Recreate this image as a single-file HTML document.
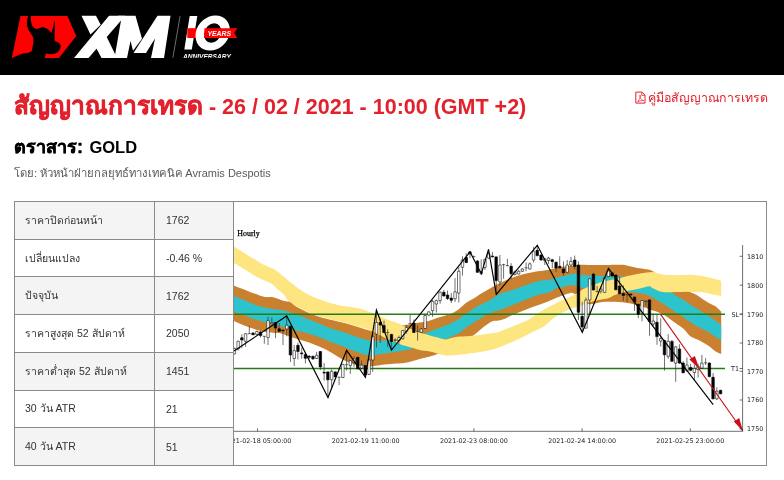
<!DOCTYPE html>
<html lang="th">
<head>
<meta charset="utf-8">
<title>XM</title>
<style>
html,body{margin:0;padding:0;background:#fff;}
body{width:784px;height:480px;overflow:hidden;position:relative;font-family:"Liberation Sans",sans-serif;color:#000;}
#hdr{position:absolute;left:0;top:0;width:784px;height:75px;background:#000;}
#logo{position:absolute;left:0;top:0;}
h1{position:absolute;left:14px;top:91px;margin:0;font-size:21.5px;line-height:30px;font-weight:bold;color:#e3212d;white-space:nowrap;}
h2{position:absolute;left:14px;top:134px;margin:0;word-spacing:1.8px;font-size:16.5px;line-height:26px;font-weight:bold;color:#000;white-space:nowrap;}
#by{position:absolute;left:14px;top:164px;font-size:11px;line-height:18px;color:#5a5a5a;white-space:nowrap;}
#guide{position:absolute;right:16px;top:88px;font-size:12.4px;line-height:20px;color:#e3212d;white-space:nowrap;}
#tbl{position:absolute;left:14px;top:201px;border-collapse:collapse;font-size:10.5px;color:#333;}
#tbl td{border:1px solid #8a8a8a;padding:0 0 0 11px;height:36.7px;vertical-align:middle;}
#tbl td.l{width:129px;padding-left:10px;}
#tbl td.v{width:67px;}
#tbl tr.g td.l,#tbl tr.g td.v{background:#f4f4f4;}
#tbl td.c{padding:0;width:532px;background:#fff;}
</style>
</head>
<body>
<div id="hdr">
<svg id="logo" width="260" height="75" viewBox="0 0 260 75">
<defs><clipPath id="cpa"><rect x="170" y="0" width="90" height="57.8"/></clipPath></defs>
<polygon points="20.5,16 67.4,16 76.3,36 58.9,57.9 11.8,57.9" fill="#f00"/>
<path transform="translate(8,10) scale(0.1084)" fill="#000" d="M186,55C168,100 168,160 200,200C215,225 235,245 235,265C235,300 228,340 220,375C205,395 170,398 150,400C110,408 75,425 40,442L340,442C340,425 345,410 355,398C380,412 425,412 450,395C462,388 470,378 475,368C483,355 488,338 486,322C475,305 455,292 432,285C428,265 430,230 432,180L432,95C420,130 412,180 400,215C385,185 355,165 325,160C300,160 285,175 265,175C237,172 218,145 212,100L210,55Z"/>
<g fill="#fff">
<polygon points="81.5,15.8 96,15.8 100.7,24.8 90.5,34.5"/>
<polygon points="74,58 88.5,58 121.5,20 125,15.8 109,15.8"/>
<polygon points="95.5,47.7 105.5,35.7 106.5,36.5 115,54 116.5,58 101.5,58 96.5,48.5"/>
<polygon points="118,15.8 135.5,15.8 142,38.8 133,50.8 130.5,41 127,58 114.5,58 121,20.5"/>
<polygon points="133.5,53 157.5,15.8 170.5,15.8 164,58 151,58 155,38.5 146,53"/>
</g>
<path d="M180.1,16L172.9,57.7" stroke="#777" stroke-width="0.9"/>
<polygon points="189.7,16 197.3,16 191.8,49.6 184.3,49.6" fill="#fff"/>
<rect x="187.3" y="28.2" width="12" height="9.8" fill="#f00"/>
<g transform="translate(212.7,33) skewX(-9)"><path fill="#fff" fill-rule="evenodd" d="M-17,0a17,17.6 0 1,0 34,0a17,17.6 0 1,0 -34,0ZM-8.4,0a8.4,9.8 0 1,1 16.8,0a8.4,9.8 0 1,1 -16.8,0Z"/></g>
<polygon points="204.5,28.2 237.4,28.2 234.1,33.1 237.4,38 204,38" fill="#f00"/>
<text x="207.4" y="35.8" font-family="'Liberation Sans',sans-serif" font-weight="bold" font-style="italic" font-size="7.1" fill="#fff" textLength="23.6" lengthAdjust="spacingAndGlyphs">YEARS</text>
<text x="183" y="58.6" clip-path="url(#cpa)" font-family="'Liberation Sans',sans-serif" font-weight="bold" font-style="italic" font-size="6.5" fill="#fff" textLength="47.8" lengthAdjust="spacingAndGlyphs">ANNIVERSARY</text>
</svg>
</div>
<h1><span class="t" style="font-size:24.5px;-webkit-text-stroke:0.55px #e3212d">สัญญาณการเทรด</span> - 26 / 02 / 2021 - 10:00 (GMT +2)</h1>
<svg id="pdf" width="14" height="16" viewBox="633 90 14 16" style="position:absolute;left:633px;top:90px"><path d="M635.8,92.1h6.2l3,3v8h-9.2z" fill="none" stroke="#e3212d" stroke-width="1"/><path d="M641.8,92.2v3.1h3.1" fill="none" stroke="#e3212d" stroke-width="0.8"/><path d="M637.6,101.8C639.6,99.4 640.8,96.6 640.4,95.3C639.8,94.6 639.4,95.6 640,97.1C640.8,99.1 642.4,100.4 643.9,100.6C642,100.4 639.8,100.9 637.6,101.8Z" fill="none" stroke="#e3212d" stroke-width="0.7"/></svg>
<div id="guide">คู่มือสัญญาณการเทรด</div>
<h2><span class="t" style="font-size:18px;-webkit-text-stroke:0.4px #000">ตราสาร:</span> GOLD</h2>
<div id="by"><span class="t" style="font-size:11.3px;margin-right:-1px">โดย: หัวหน้าฝ่ายกลยุทธ์ทางเทคนิค</span> Avramis Despotis</div>
<table id="tbl">
<tr class="g"><td class="l">ราคาปิดก่อนหน้า</td><td class="v">1762</td><td class="c" rowspan="7"><svg id="chart" width="532" height="263" viewBox="234 202 532 263" style="display:block">
<path d="M234.0,285.8C236.1,286.6 242.3,288.8 246.5,290.4C250.7,292.0 255.9,294.2 259.0,295.3C262.1,296.4 262.8,296.6 265.3,297.0C267.8,297.4 270.9,296.8 274.0,297.4C277.1,298.0 281.3,300.1 284.0,300.9C286.7,301.7 288.2,301.0 290.3,302.0C292.4,303.0 293.4,305.0 296.5,306.8C299.6,308.6 304.8,311.2 309.0,313.0C313.2,314.8 317.7,316.2 321.5,317.4C325.3,318.5 328.2,319.0 332.0,319.9C335.8,320.8 340.3,321.9 344.5,323.0C348.7,324.1 352.8,325.6 357.0,326.8C361.2,328.1 365.7,329.7 369.5,330.5C373.3,331.3 376.2,331.8 380.0,331.5C383.8,331.2 388.3,329.5 392.0,328.5C395.7,327.5 398.0,326.5 402.1,325.6C406.2,324.7 412.3,323.7 416.4,323.0C420.5,322.3 423.2,322.4 426.6,321.5C430.0,320.6 433.4,319.0 436.8,317.9C440.2,316.8 444.3,315.8 447.0,314.9C449.7,314.0 451.4,313.6 453.1,312.8C454.8,312.0 455.7,311.4 457.2,310.3C458.7,309.2 460.6,307.6 462.3,306.2C464.0,304.8 465.1,303.6 467.4,302.1C469.7,300.6 473.9,298.3 476.0,297.0C478.1,295.7 477.7,295.7 480.0,294.3C482.3,292.9 486.7,290.4 490.0,288.5C493.3,286.6 496.2,284.8 500.0,283.0C503.8,281.2 508.3,279.0 512.5,277.5C516.7,276.0 520.8,274.8 525.0,273.8C529.2,272.8 533.3,272.0 537.5,271.3C541.7,270.6 546.9,270.0 550.0,269.4C553.1,268.8 552.9,268.5 556.0,267.9C559.1,267.3 564.3,266.5 568.5,266.0C572.7,265.5 576.8,265.0 581.0,264.8C585.2,264.6 589.3,265.0 593.5,265.0C597.7,265.0 601.8,265.0 606.0,265.0C610.2,265.0 615.4,264.8 618.5,264.8C621.6,264.8 622.7,264.7 624.8,265.0C626.9,265.3 628.9,266.1 631.0,266.6C633.1,267.1 635.0,267.6 637.5,268.0C640.0,268.4 643.8,268.8 646.3,269.3C648.8,269.8 650.2,269.8 652.5,271.1C654.8,272.4 656.2,274.5 660.0,277.0C663.8,279.5 670.0,283.5 675.0,286.0C680.0,288.5 686.5,290.4 690.0,291.9C693.5,293.4 694.2,293.6 696.3,294.8C698.4,296.0 700.4,297.8 702.5,299.1C704.6,300.5 706.7,301.8 708.8,302.9C710.9,304.0 712.9,304.6 715.0,306.0C717.1,307.4 720.2,310.7 721.2,311.6L721.2,354.1C720.2,353.6 717.1,352.4 715.0,351.0C712.9,349.6 710.9,347.4 708.8,346.0C706.7,344.6 704.6,343.4 702.5,342.3C700.4,341.2 698.4,340.2 696.3,339.1C694.2,338.1 692.1,337.7 690.0,336.0C687.9,334.3 685.9,330.9 683.8,329.0C681.7,327.1 679.6,326.0 677.5,324.5C675.4,323.0 673.4,321.5 671.3,320.0C669.2,318.5 667.1,316.9 665.0,315.6C662.9,314.3 660.9,313.2 658.8,312.4C656.7,311.5 654.6,311.2 652.5,310.5C650.4,309.8 648.4,308.7 646.3,308.0C644.2,307.3 642.1,306.7 640.0,306.1C637.9,305.5 635.9,304.8 633.8,304.3C631.7,303.8 630.6,303.4 627.5,303.0C624.4,302.6 619.2,302.0 615.0,301.8C610.8,301.6 606.7,301.6 602.5,302.0C598.3,302.4 593.1,304.5 590.0,304.3C586.9,304.1 586.0,302.5 584.0,301.0C582.0,299.5 580.0,296.9 578.0,295.5C576.0,294.1 573.6,293.2 572.0,292.9C570.4,292.6 571.2,292.7 568.5,293.5C565.8,294.3 560.1,296.3 556.0,297.9C551.9,299.5 548.7,301.2 544.0,303.0C539.3,304.8 531.4,307.5 528.0,308.8C524.6,310.1 525.5,309.9 523.8,310.6C522.0,311.3 519.6,312.3 517.5,313.1C515.4,313.9 513.4,314.7 511.3,315.6C509.2,316.6 507.1,318.0 505.0,318.8C502.9,319.6 500.9,320.2 498.8,320.6C496.7,321.0 494.6,320.6 492.5,321.3C490.4,322.0 488.4,323.6 486.3,325.0C484.2,326.4 482.3,328.2 480.0,330.0C477.7,331.8 475.0,334.7 472.5,336.0C470.0,337.3 467.9,336.8 465.0,338.0C462.1,339.2 458.3,341.0 455.0,343.0C451.7,345.0 448.3,348.0 445.0,350.0C441.7,352.0 438.4,353.6 435.0,354.9C431.6,356.2 428.2,356.9 424.8,357.8C421.4,358.7 418.1,359.5 414.6,360.4C411.1,361.3 407.5,362.5 404.0,363.1C400.5,363.7 397.3,363.5 393.5,363.8C389.7,364.1 385.2,364.5 381.0,365.0C376.8,365.5 371.6,366.7 368.5,366.9C365.4,367.1 364.4,366.6 362.3,366.3C360.2,366.0 359.1,366.1 356.0,365.0C352.9,363.9 347.5,362.0 343.5,360.0C339.5,358.0 335.7,355.1 332.0,353.0C328.3,350.9 325.3,349.2 321.5,347.5C317.7,345.8 313.2,343.9 309.0,342.5C304.8,341.1 300.7,340.2 296.5,338.8C292.3,337.4 287.1,335.3 284.0,334.4C280.9,333.4 280.9,333.5 277.8,333.1C274.7,332.7 268.4,332.3 265.3,331.9C262.2,331.5 262.1,331.5 259.0,330.6C255.9,329.7 250.7,327.9 246.5,326.3C242.3,324.7 236.1,321.9 234.0,321.0Z" fill="#c98130"/>
<path d="M234.0,296.1C236.1,297.0 242.3,299.6 246.5,301.3C250.7,303.0 254.8,305.1 259.0,306.3C263.2,307.6 267.3,308.1 271.5,308.8C275.7,309.5 280.9,310.0 284.0,310.6C287.1,311.2 288.2,311.9 290.3,312.5C292.4,313.1 293.4,313.2 296.5,314.4C299.6,315.5 304.8,317.7 309.0,319.4C313.2,321.1 317.7,322.8 321.5,324.4C325.3,326.0 328.2,327.4 332.0,328.8C335.8,330.2 340.3,331.1 344.5,332.5C348.7,333.9 352.8,335.5 357.0,336.9C361.2,338.2 366.5,339.9 369.5,340.6C372.5,341.3 372.9,341.3 375.0,341.3C377.1,341.3 378.8,341.1 382.0,340.8C385.2,340.6 389.8,340.3 394.0,339.8C398.2,339.3 403.3,338.6 407.0,338.0C410.7,337.4 413.2,336.7 416.0,336.0C418.8,335.3 421.8,334.4 423.6,333.8C425.4,333.2 424.4,333.6 426.6,332.7C428.8,331.8 433.4,330.0 436.8,328.7C440.2,327.4 443.6,326.6 447.0,325.1C450.4,323.7 453.8,322.1 457.2,320.0C460.6,317.9 464.3,314.9 467.4,312.8C470.5,310.7 473.9,308.5 476.0,307.2C478.1,305.9 478.3,305.9 480.0,305.0C481.7,304.1 484.6,302.7 486.3,301.9C488.0,301.1 487.7,301.4 490.0,300.0C492.3,298.6 496.2,295.5 500.0,293.8C503.8,292.1 508.3,291.4 512.5,290.0C516.7,288.6 520.8,287.1 525.0,285.6C529.2,284.2 533.3,282.3 537.5,281.3C541.7,280.3 546.9,280.0 550.0,279.4C553.1,278.8 552.9,278.7 556.0,277.9C559.1,277.1 565.2,275.5 568.5,274.8C571.8,274.1 573.9,273.5 576.0,273.5C578.1,273.5 578.7,274.5 581.0,274.8C583.3,275.1 586.4,275.3 590.0,275.5C593.6,275.7 598.3,275.9 602.5,276.1C606.7,276.3 611.2,276.7 615.0,276.8C618.8,276.9 620.8,276.0 625.0,277.0C629.2,278.0 635.0,281.2 640.0,283.0C645.0,284.8 649.8,286.4 655.0,288.0C660.2,289.6 667.5,291.4 671.3,292.8C675.0,294.2 675.4,295.4 677.5,296.6C679.6,297.8 681.7,298.9 683.8,300.2C685.9,301.5 687.9,303.1 690.0,304.4C692.1,305.7 694.2,306.9 696.3,308.2C698.4,309.5 700.4,310.9 702.5,312.2C704.6,313.5 706.7,314.6 708.8,316.0C710.9,317.4 712.9,318.9 715.0,320.4C717.1,321.9 720.2,324.1 721.2,324.8L721.2,340.4C720.2,339.8 717.1,338.0 715.0,336.6C712.9,335.2 710.9,333.6 708.8,332.3C706.7,331.1 704.6,330.2 702.5,329.1C700.4,328.1 698.4,327.2 696.3,326.0C694.2,324.8 692.1,323.2 690.0,321.8C687.9,320.4 685.9,318.9 683.8,317.5C681.7,316.1 679.6,314.8 677.5,313.4C675.4,312.0 673.4,310.8 671.3,309.4C669.2,308.0 667.1,306.6 665.0,305.2C662.9,303.8 660.9,302.3 658.8,301.0C656.7,299.7 654.6,298.6 652.5,297.5C650.4,296.4 648.4,295.2 646.3,294.5C644.2,293.8 642.9,293.6 640.0,293.2C637.1,292.8 633.8,292.2 628.8,291.8C623.8,291.4 616.5,291.5 610.0,291.0C603.5,290.5 594.8,289.6 590.0,289.0C585.2,288.4 583.5,288.1 581.0,287.5C578.5,286.9 577.1,285.8 575.0,285.5C572.9,285.2 570.6,285.3 568.5,285.6C566.4,285.9 564.6,286.8 562.5,287.2C560.4,287.6 558.1,287.5 556.0,288.3C553.9,289.1 553.1,290.8 550.0,291.9C546.9,293.0 541.9,293.6 537.5,295.0C533.1,296.4 527.1,299.2 523.8,300.6C520.5,302.0 519.6,302.3 517.5,303.1C515.4,303.9 513.4,304.8 511.3,305.6C509.2,306.4 507.1,307.3 505.0,308.1C502.9,308.9 500.9,310.0 498.8,310.6C496.7,311.2 494.6,311.2 492.5,311.9C490.4,312.6 488.4,313.9 486.3,315.0C484.2,316.1 482.1,317.6 480.0,318.8C477.9,320.1 475.9,321.2 473.8,322.5C471.7,323.8 469.3,325.2 467.4,326.6C465.5,328.0 464.0,329.4 462.3,330.7C460.6,332.0 458.9,333.4 457.2,334.3C455.5,335.2 454.1,335.5 452.1,336.3C450.1,337.1 448.7,338.2 445.0,339.4C441.3,340.6 435.3,342.0 430.0,343.5C424.7,345.0 416.8,347.4 413.0,348.5C409.2,349.6 410.1,349.4 407.0,350.0C403.9,350.6 398.7,351.3 394.5,351.9C390.3,352.5 386.1,353.2 382.0,353.8C377.9,354.4 373.1,355.4 370.0,355.4C366.9,355.4 365.5,354.6 363.3,354.0C361.1,353.4 360.1,353.2 357.0,352.0C353.9,350.8 348.7,348.5 344.5,346.9C340.3,345.3 335.8,344.0 332.0,342.5C328.2,341.0 325.3,339.6 321.5,338.1C317.7,336.7 313.2,335.1 309.0,333.8C304.8,332.6 300.7,331.8 296.5,330.6C292.3,329.5 288.2,328.0 284.0,326.9C279.8,325.8 275.7,324.9 271.5,323.8C267.3,322.8 263.2,321.9 259.0,320.6C254.8,319.4 250.7,317.8 246.5,316.3C242.3,314.8 236.1,312.5 234.0,311.7Z" fill="#2dc3cd"/>
<path d="M234.0,246.5C236.1,247.8 242.3,251.8 246.5,254.4C250.7,257.0 255.9,260.0 259.0,261.9C262.1,263.8 262.6,264.2 265.3,265.6C268.0,267.0 272.2,268.1 275.3,270.0C278.4,271.9 280.5,274.1 284.0,276.9C287.5,279.7 292.3,283.9 296.5,286.9C300.7,289.9 304.8,292.8 309.0,295.0C313.2,297.2 317.7,298.6 321.5,300.0C325.3,301.4 328.2,302.6 332.0,303.6C335.8,304.7 340.3,305.6 344.5,306.3C348.7,307.1 352.8,307.2 357.0,308.1C361.2,309.0 366.4,310.9 369.5,311.9C372.6,312.8 373.7,313.0 375.8,313.8C377.9,314.6 379.9,315.9 382.0,316.9C384.1,317.9 386.0,319.1 388.3,320.0C390.6,320.9 393.0,321.3 396.0,322.5C399.0,323.7 402.8,325.7 406.2,327.1C409.6,328.6 413.5,330.1 416.4,331.2C419.3,332.3 421.3,333.1 423.6,333.8C425.9,334.5 427.8,334.8 430.0,335.4C432.2,336.0 434.3,336.6 436.8,337.3C439.3,338.0 442.4,339.3 445.0,339.4C447.6,339.5 450.1,338.2 452.1,337.8C454.1,337.4 454.3,337.1 457.2,336.8C460.1,336.5 465.7,336.3 469.5,336.0C473.3,335.7 476.2,335.5 480.0,335.0C483.8,334.5 489.4,333.6 492.5,333.1C495.6,332.6 496.7,332.5 498.8,331.9C500.9,331.3 502.9,330.2 505.0,329.4C507.1,328.6 509.2,327.7 511.3,326.9C513.4,326.1 515.4,325.2 517.5,324.4C519.6,323.6 522.0,322.6 523.8,321.9C525.5,321.2 525.8,321.3 528.0,320.0C530.2,318.7 534.3,315.8 537.0,314.0C539.7,312.2 540.8,311.2 544.0,309.4C547.2,307.6 552.5,305.0 556.0,303.3C559.5,301.6 561.8,300.5 565.0,299.0C568.2,297.5 572.3,295.9 575.0,294.5C577.7,293.1 578.5,291.8 581.0,290.4C583.5,289.0 586.4,287.7 590.0,286.3C593.6,284.9 598.3,283.0 602.5,281.8C606.7,280.6 610.8,280.2 615.0,279.3C619.2,278.4 623.3,277.1 627.5,276.1C631.7,275.2 635.8,274.3 640.0,273.6C644.2,272.9 649.4,272.0 652.5,272.0C655.6,272.0 656.7,273.3 658.8,273.8C660.9,274.3 661.9,274.6 665.0,274.8C668.1,275.0 673.3,275.2 677.5,275.2C681.7,275.2 685.8,274.7 690.0,274.8C694.2,274.9 698.3,275.3 702.5,276.0C706.7,276.7 711.9,278.3 715.0,279.1C718.1,279.9 720.2,280.7 721.2,281.0L721.2,296.0C720.2,295.8 718.1,295.4 715.0,294.8C711.9,294.2 706.7,292.8 702.5,292.3C698.3,291.8 694.2,291.8 690.0,291.7C685.8,291.6 681.7,291.9 677.5,292.0C673.3,292.1 668.1,292.5 665.0,292.3C661.9,292.1 660.9,291.7 658.8,291.0C656.7,290.3 654.2,288.8 652.5,288.0C650.8,287.2 650.9,286.1 648.8,286.2C646.7,286.3 643.5,287.7 640.0,288.5C636.5,289.3 631.7,290.0 627.5,291.1C623.3,292.2 618.1,293.8 615.0,294.9C611.9,296.0 610.9,297.3 608.8,298.0C606.7,298.7 605.6,298.6 602.5,299.3C599.4,300.0 593.6,301.0 590.0,302.0C586.4,303.0 584.6,304.1 581.0,305.4C577.4,306.7 572.7,307.9 568.5,309.8C564.3,311.7 560.1,313.8 556.0,316.5C551.9,319.2 547.2,324.1 544.0,326.3C540.8,328.6 539.7,328.6 537.0,330.0C534.3,331.4 531.2,332.8 528.0,334.4C524.8,336.0 521.3,337.6 517.5,339.4C513.7,341.2 509.2,343.3 505.0,345.0C500.8,346.7 496.7,348.2 492.5,349.4C488.3,350.5 485.2,351.1 480.0,351.9C474.8,352.7 466.5,353.8 461.3,354.4C456.1,355.0 451.9,355.5 448.8,355.6C445.7,355.7 445.6,355.7 442.5,355.0C439.4,354.3 433.8,352.4 430.0,351.6C426.2,350.8 422.3,350.6 419.5,350.0C416.7,349.4 415.4,348.7 413.3,348.1C411.2,347.5 409.1,346.9 407.0,346.3C404.9,345.7 402.9,345.1 400.8,344.4C398.7,343.7 396.6,342.7 394.5,341.9C392.4,341.1 390.4,340.3 388.3,339.4C386.2,338.5 385.1,337.9 382.0,336.3C378.9,334.7 373.7,331.7 369.5,330.0C365.3,328.3 361.2,327.6 357.0,326.3C352.8,325.1 348.7,323.6 344.5,322.5C340.3,321.4 335.8,320.3 332.0,319.4C328.2,318.5 324.3,317.6 321.5,316.9C318.7,316.2 317.4,315.7 315.3,315.0C313.2,314.3 311.1,313.4 309.0,312.5C306.9,311.6 304.9,310.4 302.8,309.4C300.7,308.4 299.0,307.9 296.5,306.3C294.0,304.7 289.9,301.9 287.8,300.0C285.7,298.1 285.7,296.5 284.0,294.7C282.3,292.9 279.9,291.2 277.8,289.4C275.7,287.6 274.6,285.7 271.5,283.8C268.4,281.9 263.2,280.3 259.0,278.1C254.8,275.9 250.7,273.1 246.5,270.6C242.3,268.1 236.1,264.4 234.0,263.1Z" fill="#fde57f"/>
<path d="M234,314.2H725M234,368.5H725" stroke="#257c14" stroke-width="1.35" fill="none"/>
<path d="M234.4,347.5V354.4M238.1,340.6V350.6M241.8,334.4V348.1M245.6,333.1V346.9M249.3,326.3V334.0M247.7,333.7h3.2M253.1,331.9V335.0M256.8,330.6V335.0M260.5,330.6V337.5M264.3,336.0V343.8M262.7,336.3h3.2M268.0,316.9V345.0M271.8,317.5V323.8M275.5,321.9V338.1M279.2,323.1V331.9M283.0,330.0V345.0M286.7,316.3V336.3M290.5,325.6V361.9M294.2,345.0V366.0M297.9,342.5V359.4M301.7,347.5V358.8M305.4,353.3V363.4M309.2,355.0V358.8M312.9,355.6V360.0M316.6,351.9V358.8M320.4,351.3V370.0M324.1,363.1V380.6M327.9,371.3V397.5M331.6,369.4V388.8M335.3,371.3V377.5M339.1,376.9V385.0M337.5,377.2h3.2M342.8,363.8V378.1M346.6,350.6V370.6M345.0,364.7h3.2M350.3,360.0V373.8M354.0,356.3V366.9M357.8,356.9V369.4M361.5,360.6V369.4M365.3,365.0V377.5M369.0,359.4V375.0M372.7,335.5V371.9M376.5,310.0V347.5M380.2,318.8V343.0M384.0,320.6V333.1M387.7,329.4V346.9M386.1,332.6h3.2M391.4,333.8V350.0M395.2,338.1V342.5M398.9,335.6V344.4M402.7,330.0V339.4M406.4,325.0V333.8M410.1,315.0V323.8M408.5,323.5h3.2M413.9,319.4V332.8M417.6,325.6V340.6M416.0,331.6h3.2M421.4,328.1V332.8M425.1,313.8V328.8M428.8,311.3V316.3M432.6,300.0V316.9M436.3,299.5V312.5M440.1,291.3V303.8M443.8,290.0V296.3M447.5,290.6V300.0M451.3,293.1V303.1M455.0,278.1V301.9M458.8,266.9V302.5M462.5,256.3V275.6M466.2,253.1V263.1M470.0,251.3V258.1M473.7,255.6V257.5M472.1,256.6h3.2M477.5,260.0V272.8M481.2,259.4V274.4M484.9,258.8V270.0M488.7,249.4V258.8M492.4,251.9V257.5M496.2,256.3V294.4M499.9,255.0V285.6M503.6,263.8V278.8M502.0,264.7h3.2M507.4,258.8V266.3M505.8,265.6h3.2M511.1,263.1V279.4M514.9,270.6V275.6M518.6,270.0V274.4M522.3,268.1V271.9M526.1,262.5V271.3M524.5,267.8h3.2M529.8,262.5V269.4M533.6,246.9V262.5M537.3,245.3V256.3M541.0,254.4V260.6M544.8,258.1V265.0M548.5,256.9V263.8M552.3,258.8V268.1M556.0,261.3V271.9M559.7,256.3V268.1M563.5,261.3V275.6M567.2,260.0V272.8M571.0,256.9V266.3M574.7,255.6V269.4M578.4,261.3V320.0M582.2,301.9V331.9M585.9,297.5V328.5M589.7,278.5V315.0M593.4,272.9V290.4M597.1,286.0V292.3M595.5,291.6h3.2M600.9,286.5V293.5M604.6,277.3V292.9M608.4,268.3V277.3M612.1,272.3V276.6M615.8,274.8V290.0M619.6,276.6V294.1M623.3,285.4V301.0M627.1,293.5V302.3M625.5,294.6h3.2M630.8,293.8V295.4M634.5,296.6V310.8M638.3,303.8V318.1M642.0,300.0V321.4M645.8,300.6V306.3M649.5,299.4V335.8M653.2,313.5V326.6M657.0,314.8V344.8M660.7,318.5V346.6M664.5,339.8V370.6M668.2,334.1V358.8M671.9,340.0V361.9M675.7,346.3V381.9M679.4,344.3V363.8M683.2,361.3V373.1M686.9,357.5V371.3M690.6,363.8V371.3M694.4,364.4V380.6M698.1,363.8V377.5M701.9,355.0V368.8M705.6,358.1V365.0M704.0,362.8h3.2M709.3,362.3V377.5M713.1,373.1V399.4M716.8,387.3V400.0M720.6,389.8V394.2" stroke="#333" stroke-width="0.7" fill="none"/>
<path d="M233.1,348.5h2.5V353.8h-2.5ZM236.9,341.3h2.5V348.8h-2.5ZM244.3,333.8h2.5V341.3h-2.5ZM255.6,331.5h2.5V334.4h-2.5ZM266.8,320.6h2.5V337.5h-2.5ZM270.5,322.5h2.5V323.8h-2.5ZM285.5,325.3h2.5V329.0h-2.5ZM293.0,350.6h2.5V358.5h-2.5ZM315.4,355.3h2.5V358.5h-2.5ZM330.4,371.3h2.5V379.8h-2.5ZM341.6,364.4h2.5V377.5h-2.5ZM349.1,360.6h2.5V365.6h-2.5ZM352.8,358.8h2.5V362.5h-2.5ZM360.3,365.0h2.5V368.1h-2.5ZM367.8,360.0h2.5V374.4h-2.5ZM371.5,336.3h2.5V360.0h-2.5ZM375.2,322.5h2.5V334.0h-2.5ZM393.9,339.8h2.5V340.6h-2.5ZM397.7,337.5h2.5V340.6h-2.5ZM401.4,330.6h2.5V338.8h-2.5ZM405.2,327.5h2.5V331.3h-2.5ZM420.1,329.0h2.5V332.3h-2.5ZM423.9,315.6h2.5V328.5h-2.5ZM427.6,311.9h2.5V315.0h-2.5ZM431.3,301.3h2.5V310.6h-2.5ZM435.1,300.6h2.5V304.0h-2.5ZM438.8,292.3h2.5V300.6h-2.5ZM453.8,291.9h2.5V298.8h-2.5ZM457.5,271.3h2.5V293.1h-2.5ZM461.2,260.0h2.5V267.3h-2.5ZM480.0,271.5h2.5V273.8h-2.5ZM483.7,259.4h2.5V267.5h-2.5ZM487.4,253.8h2.5V258.1h-2.5ZM498.7,265.0h2.5V281.9h-2.5ZM513.6,271.9h2.5V274.4h-2.5ZM517.4,271.3h2.5V274.0h-2.5ZM521.1,269.0h2.5V271.3h-2.5ZM528.6,263.8h2.5V269.0h-2.5ZM532.3,251.3h2.5V260.0h-2.5ZM543.5,258.8h2.5V260.6h-2.5ZM547.3,258.1h2.5V260.6h-2.5ZM566.0,265.0h2.5V272.3h-2.5ZM569.7,261.3h2.5V265.0h-2.5ZM584.7,300.0h2.5V328.1h-2.5ZM588.4,278.8h2.5V300.0h-2.5ZM599.6,289.0h2.5V291.0h-2.5ZM603.4,277.9h2.5V292.3h-2.5ZM607.1,271.0h2.5V276.6h-2.5ZM640.8,300.5h2.5V313.4h-2.5ZM644.5,300.8h2.5V301.6h-2.5ZM652.0,321.0h2.5V324.1h-2.5ZM659.5,338.5h2.5V341.0h-2.5ZM667.0,341.3h2.5V356.3h-2.5ZM674.4,346.9h2.5V363.1h-2.5ZM685.7,365.0h2.5V371.0h-2.5ZM693.1,368.5h2.5V372.5h-2.5ZM696.9,366.5h2.5V369.5h-2.5ZM700.6,363.1h2.5V368.1h-2.5ZM715.6,391.3h2.5V398.8h-2.5Z" fill="#fff" stroke="#000" stroke-width="0.55"/>
<path d="M240.6,337.8h2.5V340.0h-2.5ZM251.8,333.1h2.5V334.8h-2.5ZM259.3,331.9h2.5V335.6h-2.5ZM274.2,322.5h2.5V328.1h-2.5ZM278.0,328.8h2.5V331.3h-2.5ZM281.7,330.0h2.5V330.8h-2.5ZM289.2,326.3h2.5V355.0h-2.5ZM296.7,345.3h2.5V351.5h-2.5ZM300.4,352.9h2.5V353.8h-2.5ZM304.2,354.4h2.5V358.3h-2.5ZM307.9,356.3h2.5V357.2h-2.5ZM311.7,356.3h2.5V358.8h-2.5ZM319.1,351.5h2.5V366.9h-2.5ZM322.9,372.3h2.5V373.1h-2.5ZM326.6,371.9h2.5V379.8h-2.5ZM334.1,371.9h2.5V376.9h-2.5ZM356.5,357.3h2.5V368.8h-2.5ZM364.0,365.6h2.5V375.0h-2.5ZM379.0,322.3h2.5V325.0h-2.5ZM382.7,325.6h2.5V332.5h-2.5ZM390.2,334.4h2.5V341.5h-2.5ZM412.6,323.1h2.5V332.5h-2.5ZM442.6,292.3h2.5V296.0h-2.5ZM446.3,295.0h2.5V298.5h-2.5ZM450.0,298.1h2.5V300.3h-2.5ZM465.0,257.5h2.5V262.5h-2.5ZM468.7,251.9h2.5V253.8h-2.5ZM476.2,261.0h2.5V272.3h-2.5ZM491.2,256.0h2.5V256.8h-2.5ZM494.9,256.9h2.5V280.6h-2.5ZM509.9,266.3h2.5V273.8h-2.5ZM536.0,250.3h2.5V255.6h-2.5ZM539.8,255.0h2.5V260.0h-2.5ZM551.0,259.8h2.5V261.5h-2.5ZM554.8,262.3h2.5V268.1h-2.5ZM558.5,266.3h2.5V267.8h-2.5ZM562.2,269.0h2.5V272.8h-2.5ZM573.5,260.0h2.5V266.5h-2.5ZM577.2,265.0h2.5V312.3h-2.5ZM580.9,316.3h2.5V326.9h-2.5ZM592.2,274.1h2.5V290.0h-2.5ZM610.9,272.9h2.5V276.0h-2.5ZM614.6,275.0h2.5V289.8h-2.5ZM618.3,286.0h2.5V293.8h-2.5ZM622.1,293.5h2.5V295.4h-2.5ZM629.5,294.1h2.5V295.0h-2.5ZM633.3,297.1h2.5V302.1h-2.5ZM637.0,304.3h2.5V314.3h-2.5ZM648.2,299.9h2.5V321.5h-2.5ZM655.7,322.3h2.5V336.6h-2.5ZM663.2,340.4h2.5V354.8h-2.5ZM670.7,341.4h2.5V361.3h-2.5ZM678.2,349.0h2.5V363.1h-2.5ZM681.9,363.1h2.5V372.8h-2.5ZM689.4,367.5h2.5V370.3h-2.5ZM708.1,363.1h2.5V376.5h-2.5ZM711.8,377.3h2.5V398.8h-2.5ZM719.3,390.3h2.5V393.8h-2.5Z" fill="#000" stroke="#000" stroke-width="0.6"/>
<polyline points="234.0,351.0 286.7,315.9 328.0,397.5 346.6,350.3 365.4,377.3 376.4,310.0 391.4,350.0 470.0,251.9 481.3,273.8 488.5,249.4 496.3,294.4 537.3,245.3 582.3,332.3 608.5,268.3 713.2,404.7" fill="none" stroke="#000" stroke-width="1.15" stroke-linejoin="miter"/>
<g stroke="#c8101a" fill="#c8101a"><path d="M660.6,314.4L743,431.2" stroke-width="1.1" fill="none"/><path d="M699.4,368.8L689.4,359.4 694.8,356zM743,431.2L733.8,421.5 739.2,418z" stroke="none"/></g>
<path d="M234,431.3H742.6M742.6,245V431.3M257.5,431.3v-3M365.7,431.3v-3M473.9,431.3v-3M582.1,431.3v-3M690.3,431.3v-3M742.6,256.3h-3M742.6,285.2h-3M742.6,314.1h-3M742.6,343.0h-3M742.6,371.3h-3M742.6,400.0h-3M742.6,429.0h-3M742.6,314.2h-3M742.6,368.5h-3" stroke="#333" stroke-width="0.7" fill="none"/>
<g font-family="'DejaVu Sans',sans-serif" font-size="6.4" fill="#222">
<text x="257.5" y="442.8" text-anchor="middle">2021-02-18 05:00:00</text>
<text x="365.7" y="442.8" text-anchor="middle">2021-02-19 11:00:00</text>
<text x="473.9" y="442.8" text-anchor="middle">2021-02-23 08:00:00</text>
<text x="582.1" y="442.8" text-anchor="middle">2021-02-24 14:00:00</text>
<text x="690.3" y="442.8" text-anchor="middle">2021-02-25 23:00:00</text>
<text x="747" y="258.7">1810</text>
<text x="747" y="287.6">1800</text>
<text x="747" y="316.5">1790</text>
<text x="747" y="345.4">1780</text>
<text x="747" y="373.7">1770</text>
<text x="747" y="402.4">1760</text>
<text x="747" y="431.4">1750</text>
<text x="739" y="316.6" text-anchor="end">SL</text>
<text x="739" y="370.5" text-anchor="end">T1</text>
</g>
<text x="237.3" y="235.6" font-family="'Liberation Serif',serif" font-size="7.9" fill="#000" stroke="#000" stroke-width="0.25">Hourly</text>
</svg></td></tr>
<tr><td class="l">เปลี่ยนแปลง</td><td class="v">-0.46 %</td></tr>
<tr class="g"><td class="l">ปัจจุบัน</td><td class="v">1762</td></tr>
<tr><td class="l">ราคาสูงสุด 52 สัปดาห์</td><td class="v">2050</td></tr>
<tr class="g"><td class="l">ราคาต่ำสุด 52 สัปดาห์</td><td class="v">1451</td></tr>
<tr><td class="l">30 วัน ATR</td><td class="v">21</td></tr>
<tr class="g"><td class="l">40 วัน ATR</td><td class="v">51</td></tr>
</table>
</body>
</html>
